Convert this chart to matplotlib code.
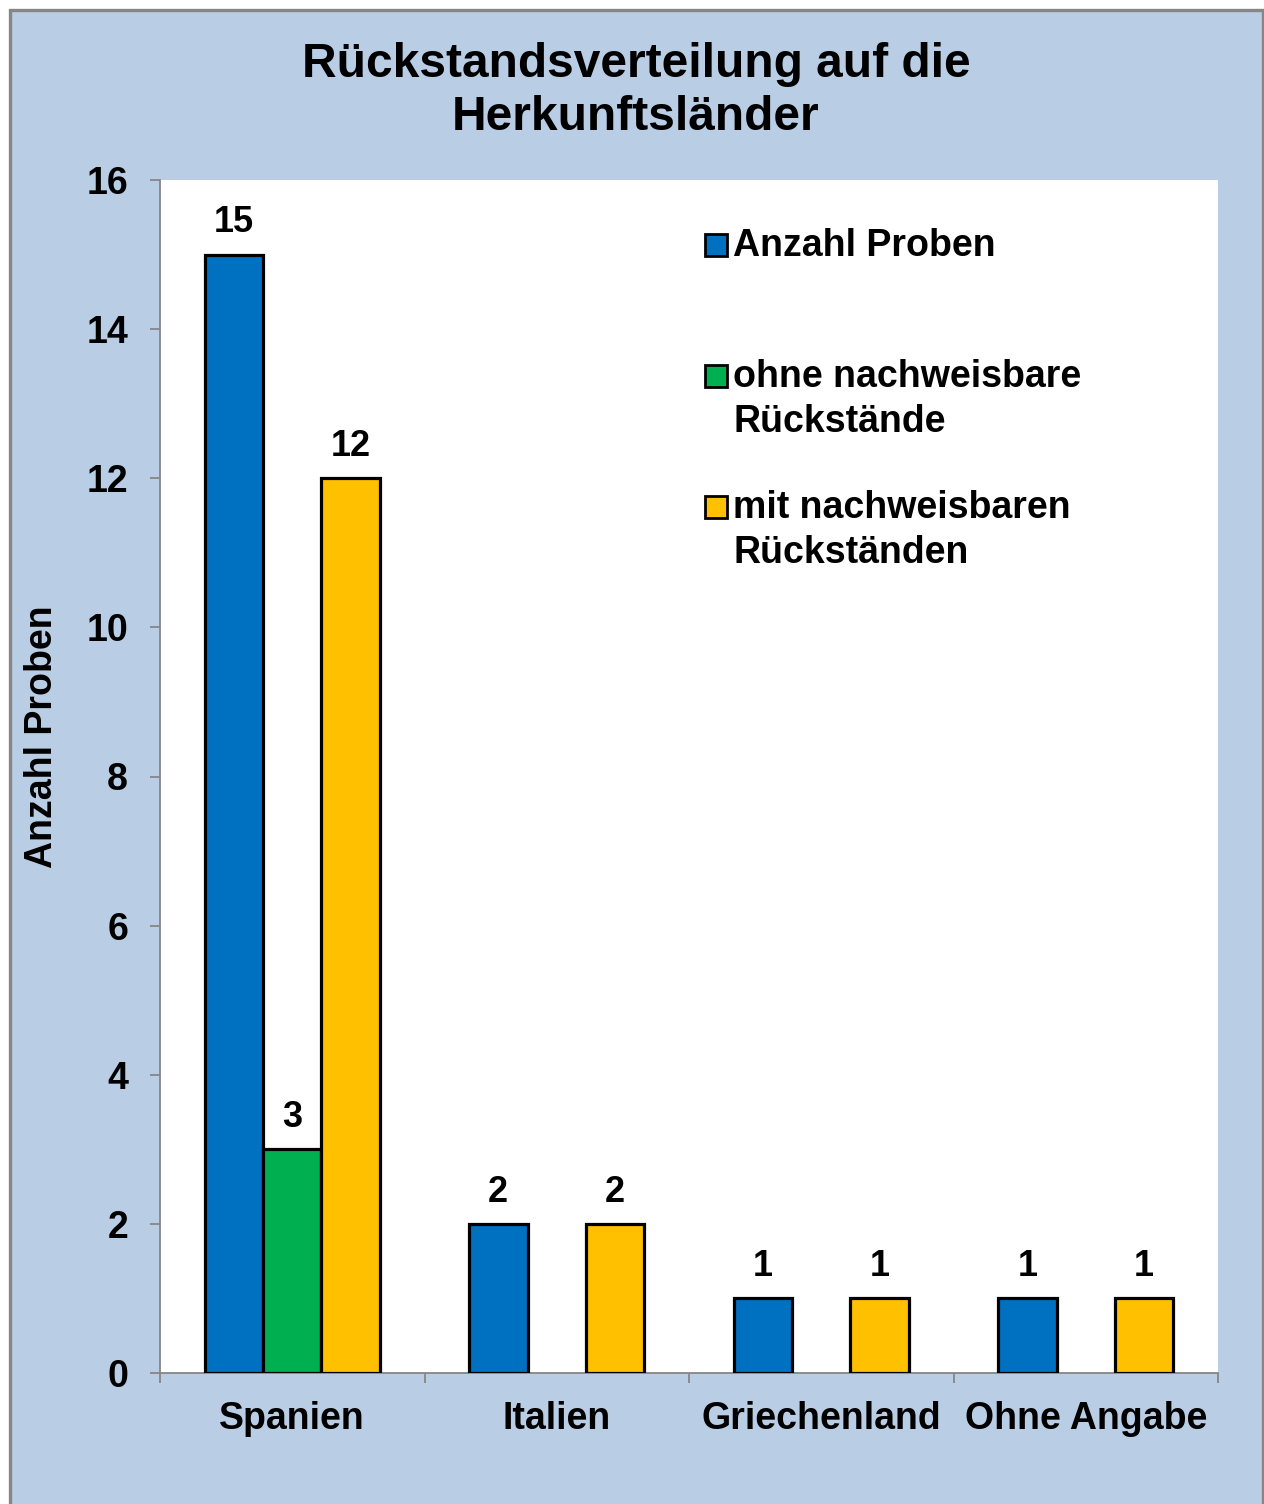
import numpy as np
import matplotlib.pyplot as plt
from matplotlib.patches import Rectangle

# ── DATA ──────────────────────────────────────────────────────────────────────
laender = ["Spanien", "Italien", "Griechenland", "Ohne Angabe"]
anzahl_proben = [15, 2, 1, 1]
ohne_rueckstaende = [3, np.nan, np.nan, np.nan]
mit_rueckstaenden = [12, 2, 1, 1]

serien = ["Anzahl Proben", "ohne nachweisbare\nRückstände", "mit nachweisbaren\nRückständen"]
farben = ["#0070C0", "#00B050", "#FFC000"]
BG = "#B9CDE5"
GRAU = "#868686"

plt.rcParams.update({
    "font.family": ["Liberation Sans", "DejaVu Sans"],
    "font.weight": "bold",
})

fig = plt.figure(figsize=(12.64, 15.04), dpi=100, facecolor="white")
# blue chart area with grey frame (behind the axes)
fig.patches.append(Rectangle((9.5 / 1264, -0.01), 1 - 11 / 1264, 1 - 9.5 / 1504 + 0.01,
                             transform=fig.transFigure, facecolor=BG,
                             edgecolor=GRAU, linewidth=2.4, zorder=-10))

ax = fig.add_axes([160 / 1264, 131 / 1504, 1058 / 1264, 1193 / 1504])
ax.set_facecolor("white")

x = np.arange(len(laender))
w = 0.221
for j, werte in enumerate([anzahl_proben, ohne_rueckstaende, mit_rueckstaenden]):
    pos = x + (j - 1) * w
    ax.bar(pos, werte, width=w, color=farben[j], edgecolor="black",
           linewidth=2.3, zorder=3)
    for xi, v in zip(pos, werte):
        if np.isnan(v):
            continue
        ax.annotate(f"{v:g}", (xi, v), xytext=(0, 16), textcoords="offset points",
                    ha="center", va="baseline", fontsize=26, fontweight="bold")

ax.set_xlim(-0.5, 3.5)
ax.set_ylim(0, 16)
ax.set_yticks(range(0, 17, 2))

for s in ["top", "right"]:
    ax.spines[s].set_visible(False)
for s in ["left", "bottom"]:
    ax.spines[s].set_color(GRAU)
    ax.spines[s].set_linewidth(1.3)

ax.tick_params(axis="y", direction="out", length=7, width=1.3, color=GRAU,
               pad=16, labelsize=27)
# category separators as major ticks, names on minor ticks
ax.set_xticks(np.arange(-0.5, 4, 1.0))
ax.set_xticklabels([])
ax.set_xticks(x, minor=True)
ax.set_xticklabels(laender, minor=True)
ax.tick_params(axis="x", which="major", direction="out", length=7, width=1.3, color=GRAU)
ax.tick_params(axis="x", which="minor", length=0, pad=20, labelsize=27)

ax.text(-0.1115, 0.533, "Anzahl Proben", transform=ax.transAxes, rotation=90,
        ha="center", va="center", fontsize=27, fontweight="bold")

fig.text(636 / 1264, 1 - 77 / 1504, "Rückstandsverteilung auf die",
         ha="center", va="baseline", fontsize=34.5, fontweight="bold")
fig.text(636 / 1264, 1 - 130 / 1504, "Herkunftsländer",
         ha="center", va="baseline", fontsize=34.5, fontweight="bold")

# legend: square + label, positioned in axes fraction
leg_y = [0.9363, 0.8265, 0.7167]
zeile = 45 / 1193  # line pitch of the legend labels
for j, (lab, yy) in enumerate(zip(serien, leg_y)):
    ax.add_patch(Rectangle((0.5151, yy), 0.0208, 0.0184, transform=ax.transAxes,
                           facecolor=farben[j], edgecolor="black", linewidth=2.0,
                           zorder=4, clip_on=False))
    # baseline alignment of multi-line text refers to the last line
    n = lab.count("\n")
    ax.text(0.5416, yy - n * zeile, lab, transform=ax.transAxes, ha="left",
            va="baseline", fontsize=27, fontweight="bold", linespacing=1.33)

fig.savefig("out.png", dpi=100, facecolor=fig.get_facecolor())
